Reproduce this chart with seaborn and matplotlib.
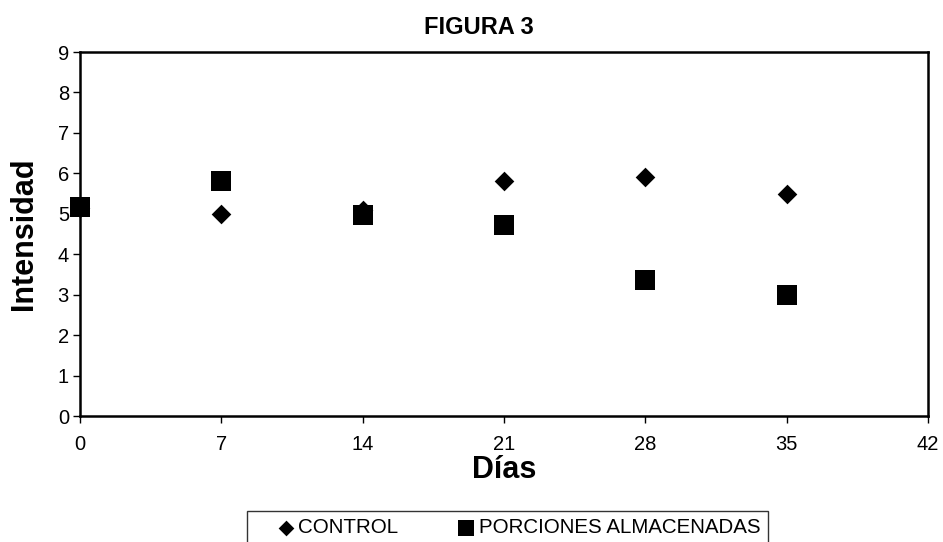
import matplotlib
matplotlib.use("Agg")
import matplotlib.pyplot as plt
import seaborn as sns
import pandas as pd

# Sensory intensity over storage days
dias = [0, 7, 14, 21, 28, 35]
control = [5.15, 5.0, 5.1, 5.81, 5.91, 5.49]
almacenadas = [5.16, 5.81, 4.96, 4.72, 3.37, 3.0]
series_labels = ["CONTROL", "PORCIONES ALMACENADAS"]
x_ticks = [0, 7, 14, 21, 28, 35, 42]
y_ticks = list(range(0, 10))

sns.set_theme(style="white")
plt.rcParams["font.family"] = ["Liberation Sans", "DejaVu Sans"]
plt.rcParams["text.color"] = "black"
plt.rcParams["axes.labelcolor"] = "black"

df_control = pd.DataFrame({"Días": dias, "Intensidad": control})
df_alm = pd.DataFrame({"Días": dias, "Intensidad": almacenadas})

fig = plt.figure(figsize=(9.43, 5.42), dpi=100)
ax = fig.add_axes([80 / 943, 1 - 416 / 542, (928 - 80) / 943, (416 - 52) / 542])

sns.scatterplot(data=df_control, x="Días", y="Intensidad", marker="D", s=100,
                color="black", edgecolor="black", linewidth=0, ax=ax,
                label=series_labels[0], clip_on=False, zorder=3)
sns.scatterplot(data=df_alm, x="Días", y="Intensidad", marker="s", s=190,
                color="black", edgecolor="black", linewidth=0, ax=ax,
                label=series_labels[1], clip_on=False, zorder=4)

ax.set_xlim(0, 42)
ax.set_ylim(0, 9)
ax.set_xticks(x_ticks)
ax.set_yticks(y_ticks)
ax.tick_params(axis="both", which="major", direction="out", length=5, width=1,
               color="black", labelsize=14.5, labelcolor="black", pad=3,
               bottom=True, left=True)
ax.tick_params(axis="x", pad=9)

for side in ["left", "right", "top", "bottom"]:
    ax.spines[side].set_visible(True)
    ax.spines[side].set_color("black")
    ax.spines[side].set_linewidth(1.8)

ax.set_xlabel("Días", fontsize=22, fontweight="bold", color="black")
ax.set_ylabel("Intensidad", fontsize=22, fontweight="bold", color="black")
ax.xaxis.set_label_coords(0.5, -0.108)
ax.yaxis.set_label_coords(-0.048, 0.5)

# Chart title is centred on the whole figure
fig.text(479 / 943, 1 - 34 / 542, "FIGURA 3", ha="center", va="baseline",
         fontsize=17, fontweight="bold", color="black")

handles, labels = ax.get_legend_handles_labels()
ax.get_legend().remove()
leg = fig.legend(handles, labels, loc="upper left",
                 bbox_to_anchor=(247 / 943, 1 - 511 / 542), ncol=2,
                 frameon=True, fancybox=False, fontsize=14.8,
                 handletextpad=-0.95, columnspacing=1.75, borderpad=0.35,
                 handlelength=3.1, markerscale=0.8, borderaxespad=0)
leg.get_frame().set_edgecolor("black")
leg.get_frame().set_linewidth(1.0)

fig.savefig("out.png", dpi=100, facecolor="white")
